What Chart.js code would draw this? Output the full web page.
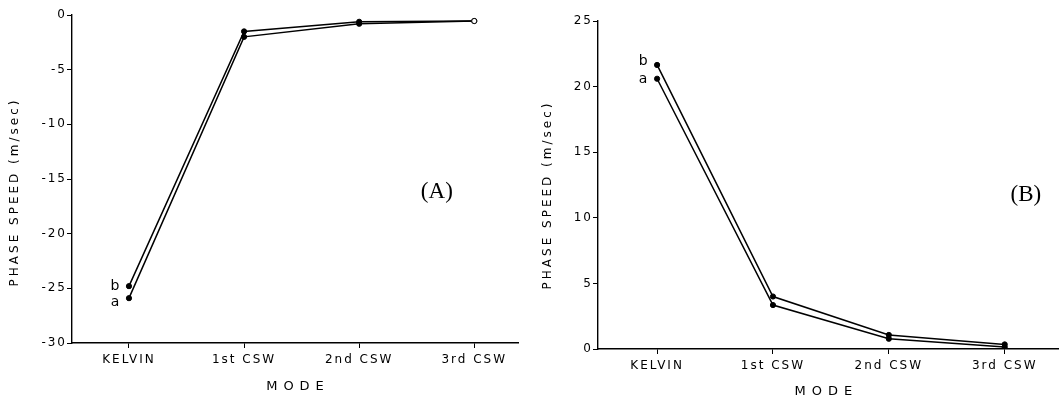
<!DOCTYPE html>
<html>
<head>
<meta charset="utf-8">
<script src="https://cdn.jsdelivr.net/npm/chart.js@4/dist/chart.umd.min.js"></script>
<style>
  html, body { margin: 0; padding: 0; background: #fff; }
  #wrap { position: relative; width: 1064px; height: 400px; overflow: hidden; }
  #panelA { position: absolute; left: 0; top: 0; }
  #panelB { position: absolute; left: 530px; top: 0; }
</style>
</head>
<body>
<div id="wrap">
  <canvas id="panelA" width="530" height="400"></canvas>
  <canvas id="panelB" width="534" height="400"></canvas>
</div>
<script>
// Modes along the x axis
const modes = ['KELVIN', '1st CSW', '2nd CSW', '3rd CSW'];
const modesB = ['KELVIN', '1st CSW', '2nd CSW', '3rd CSW'];

// Panel (A) phase speeds, m/sec
const speedA_a = [-25.9, -2.0, -0.8, -0.55];
const speedA_b = [-24.8, -1.5, -0.62, -0.55];

// Panel (B) phase speeds, m/sec
const speedB_a = [20.6, 3.35, 0.78, 0.15];
const speedB_b = [21.65, 4.0, 1.07, 0.35];

// y ticks
const ticksA = [-30, -25, -20, -15, -10, -5, 0];
const ticksB = [0, 5, 10, 15, 20, 25];

const yTitle = 'PHASE SPEED (m/sec)';
const xTitle = 'MODE';
const seriesNames = ['a', 'b'];

const SANS = '"DejaVu Sans", "Liberation Sans", sans-serif';
const SERIF = '"Liberation Serif", "DejaVu Serif", serif';

// draws axis titles, panel letter and the a/b tags next to the Kelvin points
const textPlugin = {
  id: 'paperText',
  beforeDraw(chart) {
    chart.ctx.letterSpacing = '2px';
  },
  afterDraw(chart, args, opts) {
    const ctx = chart.ctx;
    const area = chart.chartArea;
    ctx.save();
    ctx.fillStyle = '#000';
    ctx.textAlign = 'center';
    ctx.textBaseline = 'middle';

    // y title
    ctx.save();
    ctx.font = '12px ' + SANS;
    ctx.letterSpacing = '3px';
    ctx.translate(area.left - opts.yTitleDx, (area.top + area.bottom) / 2 + opts.yTitleDy);
    ctx.rotate(-Math.PI / 2);
    ctx.fillText(yTitle, 0, 0);
    ctx.restore();

    // x title
    ctx.font = '13px ' + SANS;
    ctx.letterSpacing = '6px';
    ctx.fillText(xTitle, area.left + (area.right - area.left) * opts.xTitleFx + 3, area.bottom + opts.xTitleDy);

    // panel letter
    ctx.font = '23px ' + SERIF;
    ctx.letterSpacing = '0px';
    ctx.fillText(opts.panel, area.left + (area.right - area.left) * opts.panelFx,
      area.top + (area.bottom - area.top) * opts.panelFy);

    // a / b tags at the first point
    ctx.font = '14px ' + SANS;
    chart.data.datasets.forEach((ds, i) => {
      const pt = chart.getDatasetMeta(i).data[0];
      ctx.fillText(ds.label, pt.x - 14, pt.y + opts.tagDy[i]);
    });
    ctx.restore();
  }
};

function makeSeries(values) {
  return values.map((v, i) => ({ x: i, y: v }));
}

function makeChart(id, cfg) {
  const pointFill = cfg.hollowLast ? ['#000', '#000', '#000', '#fff'] : '#000';
  new Chart(document.getElementById(id), {
    type: 'line',
    data: {
      datasets: [
        {
          label: seriesNames[0],
          data: makeSeries(cfg.a),
          borderColor: '#000',
          borderWidth: 1.5,
          pointRadius: 2.6,
          pointBackgroundColor: pointFill,
          pointBorderColor: '#000',
          pointBorderWidth: 1,
          tension: 0
        },
        {
          label: seriesNames[1],
          data: makeSeries(cfg.b),
          borderColor: '#000',
          borderWidth: 1.5,
          pointRadius: 2.6,
          pointBackgroundColor: pointFill,
          pointBorderColor: '#000',
          pointBorderWidth: 1,
          tension: 0
        }
      ]
    },
    options: {
      responsive: false,
      animation: false,
      events: [],
      layout: { padding: { top: cfg.padTop, right: cfg.padRight, left: 0, bottom: 0 } },
      plugins: {
        legend: { display: false },
        tooltip: { enabled: false },
        paperText: cfg.text
      },
      scales: {
        x: {
          type: 'linear',
          min: cfg.xMin,
          max: cfg.xMax,
          afterBuildTicks: (scale) => {
            scale.ticks = cfg.labels.map((l, i) => ({ value: i }));
          },
          afterFit: (scale) => { scale.height = cfg.xHeight; },
          grid: { drawOnChartArea: false, drawTicks: true, tickLength: 5, color: '#000', lineWidth: 1 },
          border: { display: true, color: '#000', width: 1.4 },
          ticks: {
            color: '#000',
            padding: 5,
            maxRotation: 0,
            autoSkip: false,
            font: { family: SANS, size: 12 },
            callback: (v) => cfg.labels[v]
          }
        },
        y: {
          min: cfg.yTicks[0],
          max: cfg.yTicks[cfg.yTicks.length - 1],
          afterBuildTicks: (scale) => {
            scale.ticks = cfg.yTicks.map(v => ({ value: v }));
          },
          afterFit: (scale) => { scale.width = cfg.yWidth; },
          grid: { drawOnChartArea: false, drawTicks: true, tickLength: 5, color: '#000', lineWidth: 1 },
          border: { display: true, color: '#000', width: 1.4 },
          ticks: {
            color: '#000',
            padding: 0,
            font: { family: SANS, size: 12 },
            callback: (v) => String(v)
          }
        }
      }
    },
    plugins: [textPlugin]
  });
}

makeChart('panelA', {
  a: speedA_a, b: speedA_b, labels: modes, yTicks: ticksA,
  xMin: -0.495, xMax: 3.38,
  yWidth: 72, xHeight: 57, padTop: 15, padRight: 12,
  hollowLast: true,
  text: { panel: '(A)', panelFx: 0.818, panelFy: 0.54, yTitleDx: 57, yTitleDy: 13,
          xTitleFx: 0.5, xTitleDy: 44, tagDy: [4, 0] }
});

makeChart('panelB', {
  a: speedB_a, b: speedB_b, labels: modesB, yTicks: ticksB,
  xMin: -0.51, xMax: 3.46,
  yWidth: 68, xHeight: 51, padTop: 21, padRight: 6,
  hollowLast: false,
  text: { panel: '(B)', panelFx: 0.93, panelFy: 0.53, yTitleDx: 50, yTitleDy: 10,
          xTitleFx: 0.49, xTitleDy: 43, tagDy: [1, -4] }
});
</script>
</body>
</html>
